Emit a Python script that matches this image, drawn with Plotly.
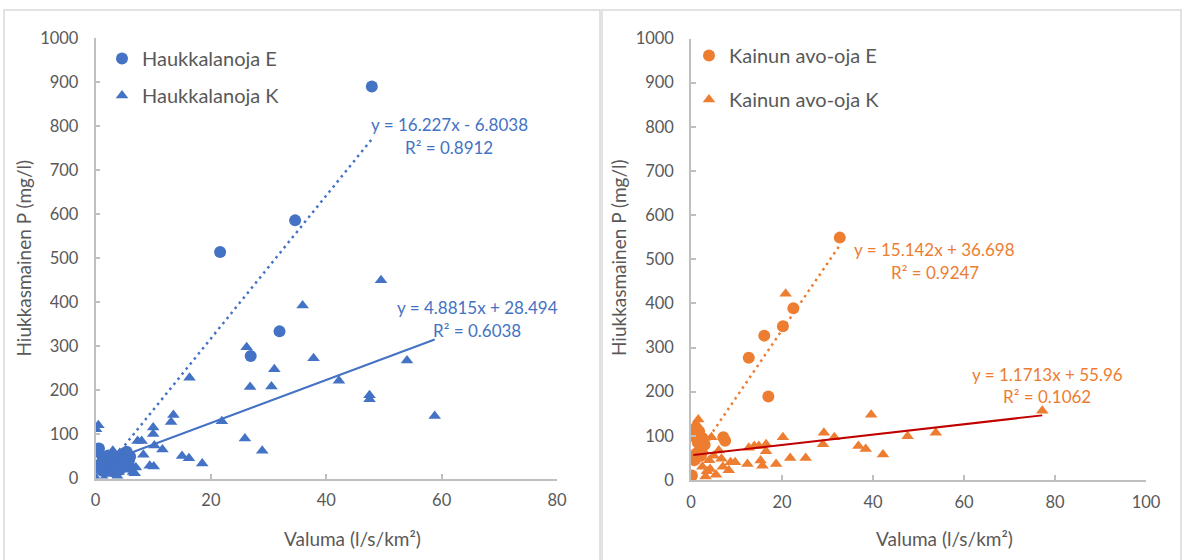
import plotly.graph_objects as go
import numpy as np

# ---------------- data ----------------
# Left panel: Haukkalanoja
hauk_E_x = [47.9, 34.6, 21.6, 31.9, 26.9, 0.1, 0.6, 5.4, 6.0, 1.0, 1.3, 1.6, 2.0, 2.4, 2.8, 3.1,
            3.5, 3.9, 4.2, 4.6, 5.0, 5.3, 5.6, 1.1, 2.2, 3.3, 4.4, 0.9, 2.6, 5.8]
hauk_E_y = [890, 586, 514, 334, 278, 61, 68, 61, 50, 35, 48, 25, 40, 30, 22, 45,
            28, 38, 20, 33, 41, 57, 30, 18, 52, 15, 50, 28, 36, 42]
hauk_K_x = [49.5, 35.9, 26.2, 37.8, 54.0, 31.0, 16.3, 42.2, 26.8, 30.5, 47.5, 47.5, 21.9, 58.8,
            13.5, 13.1, 25.9, 28.9, 0.5, 0.1, 10.0, 10.0, 7.3, 8.0, 10.2, 11.6, 8.3, 15.0, 16.2,
            18.5, 9.4, 10.1, 3.0, 0.0, 1.5, 2.0, 2.5, 3.5, 4.0, 4.5, 5.0, 5.5, 6.0, 6.5, 7.0,
            1.0, 2.8, 3.8, 5.8, 6.8, 4.2, 1.8, 0.8]
hauk_K_y = [450, 393, 298, 273, 268, 248, 229, 222, 208, 209, 189, 180, 130, 142,
            144, 128, 91, 63, 121, 112, 116, 101, 85, 85, 75, 66, 54, 51, 46,
            34, 29, 27, 63, 2, 0, 25, 10, 45, 15, 30, 55, 20, 35, 15, 25,
            40, 50, 5, 45, 12, 58, 35, 18]
hauk_E_fit = (16.227, -6.8038, 0.8912)   # slope, intercept, R2
hauk_K_fit = (4.8815, 28.494, 0.6038)

# Right panel: Kainun avo-oja
kain_E_x = [32.7, 22.5, 20.2, 16.1, 12.7, 17.0, 7.5, 7.1, 0.4, 0.0, 1.0, 0.5, 1.5, 2.0, 1.2,
            2.5, 0.8, 3.0, 1.8, 0.2, 2.2]
kain_E_y = [549, 389, 348, 327, 277, 189, 89, 97, 50, 8, 101, 100, 85, 70, 60,
            95, 45, 80, 110, 10, 55]
kain_K_x = [77.2, 39.6, 20.8, 29.2, 29.0, 31.5, 20.2, 47.6, 53.8, 36.8, 38.4, 42.2, 21.8, 25.2,
            18.7, 12.4, 12.7, 13.9, 14.9, 16.5, 16.5, 15.3, 15.7, 8.7, 9.7, 8.3, 5.5,
            1.6, 1.2, 0.8, 2.0, 3.0, 4.5, 6.1, 6.7, 2.5, 3.5, 4.0, 1.0, 2.8, 3.2, 5.0,
            7.0, 0.5, 2.2, 1.8, 4.2]
kain_K_y = [157, 148, 422, 107, 81, 97, 97, 99, 107, 77, 70, 58, 50, 50,
            36, 36, 73, 77, 77, 81, 65, 44, 32, 40, 40, 22, 12,
            137, 127, 115, 105, 95, 97, 67, 48, 30, 20, 45, 60, 65, 8, 55,
            30, 120, 80, 90, 25]
kain_E_fit = (15.142, 36.698, 0.9247)
kain_K_fit = (1.1713, 55.96, 0.1062)

x_ticks_left = [0, 20, 40, 60, 80]
x_ticks_right = [0, 20, 40, 60, 80, 100]
y_ticks = [0, 100, 200, 300, 400, 500, 600, 700, 800, 900, 1000]

# ---------------- style ----------------
BLUE = "#4472C4"
ORANGE = "#ED7D31"
RED = "#C00000"
TXT = "#595959"
AX = "#BFBFBF"
FONT = "Lato"

fig = go.Figure()


def trend(xs, fit):
    a, b, _ = fit
    xr = np.array([min(xs), max(xs)])
    return xr, a * xr + b


# left markers
fig.add_trace(go.Scatter(x=hauk_E_x, y=hauk_E_y, mode="markers", name="Haukkalanoja E",
                         marker=dict(symbol="circle", size=12, color=BLUE),
                         xaxis="x", yaxis="y", legend="legend", legendgroup="a"))
fig.add_trace(go.Scatter(x=hauk_K_x, y=hauk_K_y, mode="markers", name="Haukkalanoja K",
                         marker=dict(symbol="triangle-up", size=11, color=BLUE),
                         xaxis="x", yaxis="y", legend="legend", legendgroup="b"))
tx, ty = trend(hauk_E_x, hauk_E_fit)
fig.add_trace(go.Scatter(x=tx, y=ty, mode="lines", showlegend=False,
                         line=dict(color=BLUE, width=2.5, dash="2.5px,4px"),
                         xaxis="x", yaxis="y"))
tx, ty = trend(hauk_K_x, hauk_K_fit)
fig.add_trace(go.Scatter(x=tx, y=ty, mode="lines", showlegend=False,
                         line=dict(color=BLUE, width=2),
                         xaxis="x", yaxis="y"))

# right markers
fig.add_trace(go.Scatter(x=kain_E_x, y=kain_E_y, mode="markers", name="Kainun avo-oja E",
                         marker=dict(symbol="circle", size=12, color=ORANGE),
                         xaxis="x2", yaxis="y2", legend="legend2", legendgroup="c"))
fig.add_trace(go.Scatter(x=kain_K_x, y=kain_K_y, mode="markers", name="Kainun avo-oja K",
                         marker=dict(symbol="triangle-up", size=11, color=ORANGE),
                         xaxis="x2", yaxis="y2", legend="legend2", legendgroup="d"))
tx, ty = trend(kain_E_x, kain_E_fit)
fig.add_trace(go.Scatter(x=tx, y=ty, mode="lines", showlegend=False,
                         line=dict(color=ORANGE, width=2.5, dash="2.5px,4px"),
                         xaxis="x2", yaxis="y2"))
tx, ty = trend(kain_K_x, kain_K_fit)
fig.add_trace(go.Scatter(x=tx, y=ty, mode="lines", showlegend=False,
                         line=dict(color=RED, width=2),
                         xaxis="x2", yaxis="y2"))

W, H = 1184, 560
axis_common = dict(showline=True, linecolor=AX, linewidth=1.5, ticks="inside", ticklen=5,
                   tickcolor=AX, tickwidth=1.5, showgrid=False, zeroline=False,
                   automargin=False,
                   tickfont=dict(family=FONT, size=16.5, color=TXT))

fig.update_layout(
    width=W, height=H, margin=dict(l=0, r=0, t=0, b=0, pad=0, autoexpand=False),
    paper_bgcolor="white", plot_bgcolor="white",
    font=dict(family=FONT, color=TXT),
    xaxis=dict(domain=[95.5 / W, 557 / W], range=[0, 80], tickvals=x_ticks_left,
               anchor="y", ticklabelstandoff=6, **axis_common),
    yaxis=dict(domain=[1 - 478.5 / H, 1 - 38 / H], range=[0, 1000], tickvals=y_ticks,
               anchor="x", ticklabelstandoff=12, **axis_common),
    xaxis2=dict(domain=[691 / W, 1146 / W], range=[0, 100], tickvals=x_ticks_right,
                anchor="y2", ticklabelstandoff=6, **axis_common),
    yaxis2=dict(domain=[1 - 480 / H, 1 - 38.5 / H], range=[0, 1000], tickvals=y_ticks,
                anchor="x2", ticklabelstandoff=12, **axis_common),
    legend=dict(x=102 / W, y=1 - 39 / H, xanchor="left", yanchor="top",
                bgcolor="rgba(0,0,0,0)", font=dict(family=FONT, size=20, color=TXT),
                tracegroupgap=8, itemwidth=30),
    legend2=dict(x=689 / W, y=1 - 36 / H, xanchor="left", yanchor="top",
                 bgcolor="rgba(0,0,0,0)", font=dict(family=FONT, size=20, color=TXT),
                 tracegroupgap=15, itemwidth=30),
    showlegend=True,
)

ann = []


def eq_text(fit):
    a, b, r2 = fit
    sign = "-" if b < 0 else "+"
    return f"y = {a:g}x {sign} {abs(b):g}", f"R² = {r2:.4f}"


for fit, color, cx, y1, y2 in [
    (hauk_E_fit, BLUE, 449, 125, 148),
    (hauk_K_fit, BLUE, 477, 307, 330),
    (kain_E_fit, ORANGE, 934.5, 249, 272),
    (kain_K_fit, ORANGE, 1047, 374, 396),
]:
    l1, l2 = eq_text(fit)
    for txt, yy in [(l1, y1), (l2, y2)]:
        ann.append(dict(text=txt, x=cx / W, y=1 - yy / H, xref="paper", yref="paper",
                        xanchor="center", yanchor="middle", showarrow=False,
                        font=dict(family=FONT, size=17, color=color)))

for cx in [23.5, 619]:
    ann.append(dict(text="Hiukkasmainen P (mg/l)", x=cx / W, y=1 - 258 / H, xref="paper",
                    yref="paper", textangle=-90, xanchor="center", yanchor="middle",
                    showarrow=False, font=dict(family=FONT, size=19, color=TXT)))
for cx in [352, 944.5]:
    ann.append(dict(text="Valuma (l/s/km²)", x=cx / W, y=1 - 538 / H, xref="paper",
                    yref="paper", xanchor="center", yanchor="middle", showarrow=False,
                    font=dict(family=FONT, size=19, color=TXT)))
fig.update_layout(annotations=ann)

# chart-area borders
shapes = [
    dict(type="rect", xref="paper", yref="paper", x0=4 / W, x1=600 / W, y0=-0.01, y1=1 - 10 / H,
         line=dict(color="#D9D9D9", width=1.5), fillcolor="rgba(0,0,0,0)", layer="below"),
    dict(type="rect", xref="paper", yref="paper", x0=602 / W, x1=1181 / W, y0=-0.01, y1=1 - 10 / H,
         line=dict(color="#D9D9D9", width=1.5), fillcolor="rgba(0,0,0,0)", layer="below"),
]
fig.update_layout(shapes=shapes)

fig.write_html("out.html")
